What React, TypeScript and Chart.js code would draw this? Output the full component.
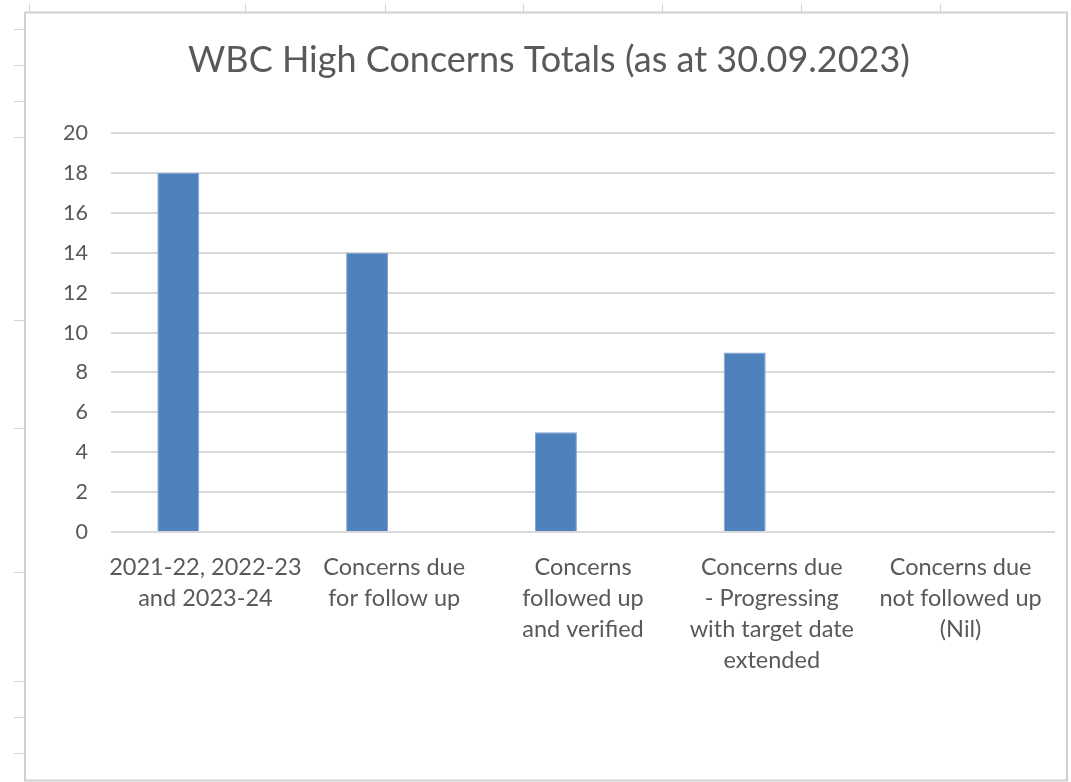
import { useEffect, useRef } from 'react';
import { Chart, registerables } from 'chart.js';

Chart.register(...registerables);

const chartTitle = 'WBC High Concerns Totals (as at 30.09.2023)';
const categories: string[][] = [
  ['2021-22, 2022-23', 'and 2023-24'],
  ['Concerns due', 'for follow up'],
  ['Concerns', 'followed up', 'and verified'],
  ['Concerns due', '- Progressing', 'with target date', 'extended'],
  ['Concerns due', 'not followed up', '(Nil)'],
];
const concernTotals = [18, 14, 5, 9, 0];
const emptySeries = [null, null, null, null, null];
const yMin = 0;
const yMax = 20;
const yStep = 2;

const FONT = 'Lato, "Open Sans", sans-serif';
const TEXT = '#595959';
const GRID = '#D9D9D9';

const sheetPlugin = {
  id: 'sheetFrame',
  beforeDraw(chart: any) {
    const ctx = chart.ctx;
    ctx.save();
    ctx.fillStyle = '#ffffff';
    ctx.fillRect(0, 0, chart.width, chart.height);
    ctx.strokeStyle = '#D4D4D4';
    ctx.lineWidth = 1;
    // spreadsheet column marks along top
    [29, 245, 385, 523, 662, 801, 940].forEach((x) => {
      ctx.beginPath();
      ctx.moveTo(x + 0.5, 4);
      ctx.lineTo(x + 0.5, 12);
      ctx.stroke();
    });
    // spreadsheet row marks along left
    [29, 65, 101, 137, 320, 428, 572, 681, 717, 753].forEach((y) => {
      ctx.beginPath();
      ctx.moveTo(14, y + 0.5);
      ctx.lineTo(25, y + 0.5);
      ctx.stroke();
    });
    ctx.strokeStyle = '#D0D0D0';
    ctx.lineWidth = 2;
    ctx.strokeRect(25, 12.5, 1042, 768);
    ctx.restore();
  },
};

export default function App() {
  const ref = useRef<HTMLCanvasElement>(null);
  useEffect(() => {
    document.body.style.margin = '0';
    const chart = new Chart(ref.current!, {
      type: 'bar',
      data: {
        labels: categories,
        datasets: [
          {
            label: 'Totals',
            data: concernTotals,
            backgroundColor: '#4F81BD',
            borderColor: '#7FA3D3',
            borderWidth: 1,
          },
          {
            label: 'Blank',
            data: emptySeries as any,
            backgroundColor: '#C0504D',
          },
        ],
      },
      options: {
        responsive: false,
        animation: false,
        devicePixelRatio: 1,
        layout: { padding: { left: 43, right: 16, top: 0, bottom: 0 } },
        datasets: {
          bar: { categoryPercentage: 0.574, barPercentage: 0.775 },
        },
        plugins: {
          legend: { display: false },
          tooltip: { enabled: false },
          title: {
            display: true,
            text: chartTitle,
            color: TEXT,
            font: { family: FONT, size: 36, weight: 'normal', lineHeight: 1.2 },
            padding: { top: 39, bottom: 51 },
          },
        },
        scales: {
          x: {
            grid: { display: false, drawTicks: false },
            border: { display: false },
            ticks: {
              color: TEXT,
              font: { family: FONT, size: 23.5, lineHeight: 1.32 },
              padding: 20,
              autoSkip: false,
              maxRotation: 0,
              minRotation: 0,
            },
            afterFit: (scale: any) => {
              scale.height = 250;
            },
          },
          y: {
            min: yMin,
            max: yMax,
            grid: { color: GRID, lineWidth: 2, drawTicks: false },
            border: { display: false },
            ticks: {
              stepSize: yStep,
              color: TEXT,
              font: { family: FONT, size: 21.5 },
              padding: 23,
            },
            afterFit: (scale: any) => {
              scale.width = 68;
            },
          },
        },
      },
      plugins: [sheetPlugin],
    });
    return () => chart.destroy();
  }, []);
  return (
    <div style={{ position: 'absolute', left: 0, top: 0, width: 1071, height: 782, background: '#fff' }}>
      <canvas ref={ref} width={1071} height={782} style={{ display: 'block', width: 1071, height: 782 }} />
    </div>
  );
}
